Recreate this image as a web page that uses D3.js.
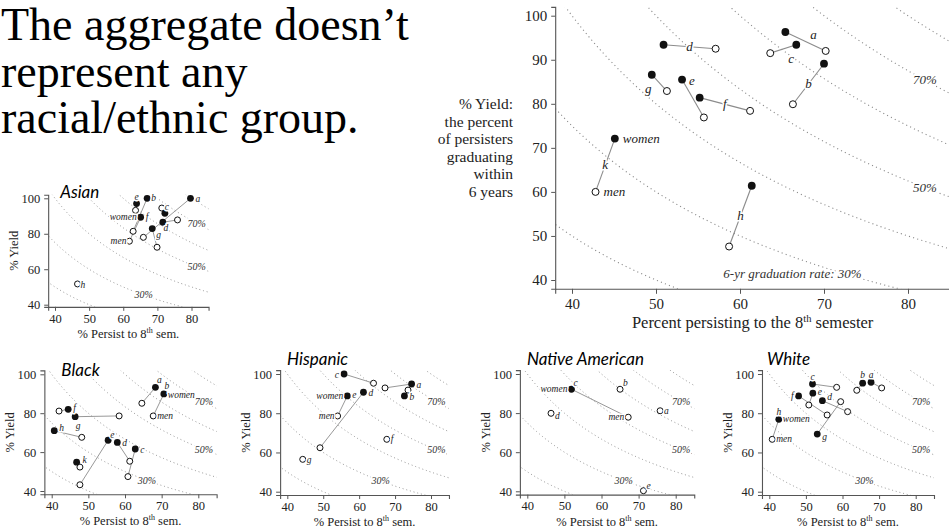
<!DOCTYPE html>
<html>
<head>
<meta charset="utf-8">
<script src="https://cdn.jsdelivr.net/npm/d3@7/dist/d3.min.js"></script>
<style>
  html, body { margin: 0; padding: 0; background: #fff; }
  svg { display: block; }
</style>
</head>
<body>
<svg id="chart" width="949" height="532"></svg>
<script>
// ---- data ---------------------------------------------------------------
// Six-year graduation rate contours (%), graduation = persist × yield
const gradLevels = [20, 30, 40, 50, 60, 70, 80];
const persistTicks = [40, 50, 60, 70, 80];
const yieldTicksMain = [40, 50, 60, 70, 80, 90, 100];
const yieldTicksSmall = [40, 60, 80, 100];

const headingLines = ["The aggregate doesn\u2019t", "represent any", "racial/ethnic group."];
const mainYTitle = ["% Yield:", "the percent", "of persisters", "graduating", "within", "6 years"];

// All students, by institution (women = filled, men = open)
const allInst         = ["a", "b", "c", "d", "e", "f", "g", "h", "k"];
const allWomenPersist = [65.4, 70.0, 66.7, 50.9, 53.1, 55.2, 49.5, 61.4, 45.1];
const allWomenYield   = [96.3, 89.1, 93.4, 93.4, 85.5, 81.4, 86.6, 61.4, 72.1];
const allMenPersist   = [70.2, 66.3, 63.6, 57.1, 55.7, 61.2, 51.3, 58.7, 42.8];
const allMenYield     = [92.0, 79.9, 91.5, 92.5, 76.9, 78.4, 82.9, 47.6, 60.0];

const asianInst         = ["a", "b", "c", "d", "e", "f", "g", "h"];
const asianWomenPersist = [79.7, 67.0, 72.2, 71.6, 63.9, 65.1, 68.5, null];
const asianWomenYield   = [100, 100, 91.5, 86.5, 97.0, 89.3, 82.9, null];
const asianMenPersist   = [65.9, 62.9, 71.3, 75.9, 63.6, 61.8, 69.9, 46.6];
const asianMenYield     = [78.0, 81.4, 94.5, 87.8, 93.2, 75.8, 72.4, 51.7];

const blackInst         = ["a", "b", "c", "d", "e", "f", "g", "h", "k"];
const blackWomenPersist = [68.3, 70.6, 62.8, 57.9, 55.4, 44.5, 46.4, 40.7, 46.8];
const blackWomenYield   = [93.3, 89.9, 61.6, 65.0, 66.1, 82.0, 78.2, 71.0, 54.8];
const blackMenPersist   = [64.6, 67.7, 60.8, 61.3, 47.7, 42.0, 58.4, 48.2, 47.7];
const blackMenYield     = [85.1, 78.6, 47.4, 55.3, 43.2, 81.1, 78.6, 67.6, 52.3];

const hispInst         = ["a", "b", "c", "d", "e", "f", "g"];
const hispWomenPersist = [74.6, 72.6, 55.8, 61.2, 56.7, null, null];
const hispWomenYield   = [94.9, 88.8, 100, 90.7, 88.8, null, null];
const hispMenPersist   = [67.2, 73.6, 64.0, 49.1, 54.0, 67.7, 44.3];
const hispMenYield     = [92.9, 91.8, 95.3, 62.4, 78.6, 66.7, 56.5];

const natInst         = ["a", "b", "c", "d", "e"];
const natWomenPersist = [null, null, 51.9, null, null];
const natWomenYield   = [null, null, 92.2, null, null];
const natMenPersist   = [75.8, 65.0, 67.2, 46.4, 71.3];
const natMenYield     = [81.2, 92.2, 77.9, 79.9, 40.3];

const whiteInst         = ["a", "b", "c", "d", "e", "f", "g", "h"];
const whiteWomenPersist = [67.8, 65.5, 51.8, 54.5, 51.9, 48.0, 53.1, 42.6];
const whiteWomenYield   = [95.8, 95.3, 94.9, 86.4, 90.2, 88.8, 69.4, 76.9];
const whiteMenPersist   = [70.7, 63.9, 58.4, 61.4, 50.8, 55.8, 59.5, 40.8];
const whiteMenYield     = [92.9, 91.7, 93.2, 80.8, 84.2, 79.1, 85.9, 66.7];

// ---- layout ---------------------------------------------------------------
const SERIF = "'Liberation Serif', 'Times New Roman', serif";
const SANS = "Lato, 'Open Sans', sans-serif";

const svg = d3.select("#chart");

// heading
svg.append("g").selectAll("text").data(headingLines).join("text")
  .attr("x", 1).attr("y", (d, i) => 40 + i * 46.5)
  .attr("font-family", SERIF).attr("font-size", 46).attr("fill", "#000")
  .text(d => d);

// label spec: [anchor point, dx, dy, text-anchor]
const panels = [
  {
    id: "all", main: true,
    inst: allInst, wp: allWomenPersist, wy: allWomenYield, mp: allMenPersist, my: allMenYield,
    px40: 572, px80: 908, py100: 15.7, py40: 280, yLo: 38, yHi: 102,
    yTicks: yieldTicksMain, r: 3.5,
    tickFont: 15, labelFont: 13, pctFont: 13,
    labels: { a: ["mid", 8, -7, "middle"], b: ["mid", 0, 0, "middle"], c: ["mid", 8, 10, "middle"],
              d: ["mid", 0, 0, "middle"], e: ["w", 7, 1, "start"], f: ["mid", 0, 0, "middle"],
              g: ["mid", -11, 6, "middle"], h: ["mid", 0, 0, "middle"], k: ["mid", 0, 0, "middle"] },
    gender: { inst: "k", w: ["w", 8, 0, "start"], m: ["m", 8, 0, "start"] },
    pctLabels: [ { level: 70, x: 82, text: "70%" }, { level: 50, x: 82, text: "50%" },
                 { level: 30, x: 66.25, text: "6-yr graduation rate: 30%", dy: 17 } ]
  },
  {
    id: "asian", title: "Asian", titleDx: 12, titleDy: -6,
    inst: asianInst, wp: asianWomenPersist, wy: asianWomenYield, mp: asianMenPersist, my: asianMenYield,
    px40: 55, px80: 191.5, py100: 198.3, py40: 304.7, yLo: 38.8, yHi: 102,
    labels: { a: ["w", 5, 1, "start"], b: ["w", 4, 0, "start"], c: ["m", 3, -1, "start"],
              d: ["w", 3, 6, "middle"], e: ["w", 0, -7, "middle"], f: ["w", 5, 0, "start"],
              g: ["w", 4, 6, "start"], h: ["m", 3, 1, "start"] },
    gender: { inst: "f", w: ["w", -4, 0, "end"], m: ["m", -3, 0, "end"] }
  },
  {
    id: "black", title: "Black", titleDx: 17, titleDy: -4,
    inst: blackInst, wp: blackWomenPersist, wy: blackWomenYield, mp: blackMenPersist, my: blackMenYield,
    px40: 51.7, px80: 198.3, py100: 374.3, py40: 491, yLo: 38.3, yHi: 102,
    labels: { a: ["w", 4, -7, "middle"], b: ["w", 3, -8, "middle"], c: ["w", 5, 1, "start"],
              d: ["w", 5, 1, "start"], e: ["w", 2, -5, "start"], f: ["w", 5, -1, "start"],
              g: ["w", 3, 9, "middle"], h: ["w", 5, -3, "start"], k: ["w", 6, -2, "start"] },
    gender: { inst: "b", w: ["w", 4, 1, "start"], m: ["m", 4, 0, "start"] }
  },
  {
    id: "hisp", title: "Hispanic", titleDx: 7, titleDy: -15,
    inst: hispInst, wp: hispWomenPersist, wy: hispWomenYield, mp: hispMenPersist, my: hispMenYield,
    px40: 287.3, px80: 431, py100: 374, py40: 491.7, yLo: 38.3, yHi: 102,
    labels: { a: ["w", 5, 1, "start"], b: ["w", 5, 1, "start"], c: ["w", -5, 1, "end"],
              d: ["w", 5, 1, "start"], e: ["w", 5, -1, "start"], f: ["m", 4, 0, "start"],
              g: ["m", 4, 1, "start"] },
    gender: { inst: "e", w: ["w", -4, 0, "end"], m: ["m", -3, 0, "end"] }
  },
  {
    id: "nat", title: "Native American", titleDx: 7, titleDy: -15,
    inst: natInst, wp: natWomenPersist, wy: natWomenYield, mp: natMenPersist, my: natMenYield,
    px40: 527.3, px80: 675.7, py100: 374, py40: 491.3, yLo: 38.3, yHi: 102,
    labels: { a: ["m", 4, 0, "start"], b: ["m", 3, -6, "start"], c: ["w", 2, -6, "start"],
              d: ["m", 4, 3, "start"], e: ["m", 3, -5, "start"] },
    gender: { inst: "c", w: ["w", -4, 0, "end"], m: ["m", -4, 0, "end"] }
  },
  {
    id: "white", title: "White", titleDx: 5, titleDy: -15,
    inst: whiteInst, wp: whiteWomenPersist, wy: whiteWomenYield, mp: whiteMenPersist, my: whiteMenYield,
    px40: 769.3, px80: 915.7, py100: 374, py40: 491.7, yLo: 38.3, yHi: 102,
    labels: { a: ["w", 0, -7, "middle"], b: ["w", 0, -8, "middle"], c: ["w", 0, -7, "middle"],
              d: ["w", 5, -4, "start"], e: ["w", 5, -1, "start"], f: ["w", -5, 0, "end"],
              g: ["w", 5, 3, "start"], h: ["w", 0, -7, "middle"] },
    gender: { inst: "h", w: ["w", 4, 0, "start"], m: ["m", 4, 0, "start"] }
  }
];

const smallDefaults = {
  yTicks: yieldTicksSmall, r: 3, tickFont: 12.5, labelFont: 9.5, pctFont: 10,
  pctLabels: [ { level: 70, x: 81.5, text: "70%" }, { level: 50, x: 81.5, text: "50%" },
               { level: 30, x: 66, text: "30%" } ]
};

// linear scale fixed by two reference values, re-expressed over the full domain
function refScale(d0, d1, r0, r1, lo, hi) {
  const s = d3.scaleLinear().domain([d0, d1]).range([r0, r1]);
  return d3.scaleLinear().domain([lo, hi]).range([s(lo), s(hi)]);
}

function halo(sel, w) {
  return sel.attr("stroke", "#fff").attr("stroke-width", w).attr("stroke-linejoin", "round")
    .attr("paint-order", "stroke");
}

panels.forEach(p0 => {
  const p = p0.main ? p0 : Object.assign({}, smallDefaults, p0);
  const x = refScale(40, 80, p.px40, p.px80, 38, 85);
  const y = refScale(100, 40, p.py100, p.py40, p.yLo, p.yHi);
  const [xl, xr] = x.range();
  const yb = y(p.yLo), yt = y(p.yHi);
  const g = svg.append("g");

  // clip for the plotting area
  g.append("clipPath").attr("id", "clip-" + p.id)
    .append("rect").attr("x", xl).attr("y", yt).attr("width", xr - xl).attr("height", yb - yt);

  // graduation-rate contours
  const xs = d3.range(36, 87.01, 0.25);
  const curve = d3.line().x(d => x(d[0])).y(d => y(d[1]));
  g.append("g").attr("clip-path", `url(#clip-${p.id})`)
    .selectAll("path").data(gradLevels).join("path")
    .attr("d", G => curve(xs.map(v => [v, G * 100 / v])))
    .attr("fill", "none").attr("stroke", "#8a8a8a")
    .attr("stroke-width", p.main ? 1.1 : 0.9)
    .attr("stroke-dasharray", p.main ? "1.1,3.2" : "1,2.8");

  // contour labels
  p.pctLabels.forEach(L => {
    const t = g.append("text")
      .attr("x", x(L.x)).attr("y", y(L.level * 100 / L.x) + (L.dy || 0))
      .attr("dy", "0.32em").attr("text-anchor", "middle")
      .attr("font-family", SERIF).attr("font-style", "italic")
      .attr("font-size", p.pctFont).attr("fill", "#333").text(L.text);
    halo(t, 4);
  });

  // axes
  const xAxis = d3.axisBottom(x).tickValues(persistTicks).tickSizeOuter(0)
    .tickSize(p.main ? 5 : 4).tickPadding(p.main ? 5 : 3);
  const yAxis = d3.axisLeft(y).tickValues(p.yTicks).tickSizeOuter(0)
    .tickSize(4).tickPadding(4);
  const gx = g.append("g").attr("transform", `translate(0,${yb})`).call(xAxis);
  const gy = g.append("g").attr("transform", `translate(${xl},0)`).call(yAxis);
  [gx, gy].forEach(a => {
    a.select(".domain").attr("stroke", "#555").attr("stroke-width", 1.1);
    a.selectAll(".tick line").attr("stroke", "#555");
    a.selectAll(".tick text").attr("font-family", SERIF).attr("font-size", p.tickFont).attr("fill", "#222");
  });

  // axis titles
  if (p.main) {
    const tx = g.append("text").attr("x", (xl + xr) / 2).attr("y", 328)
      .attr("text-anchor", "middle").attr("font-family", SERIF).attr("font-size", 16.5).attr("fill", "#222");
    tx.append("tspan").text("Percent persisting to the 8");
    tx.append("tspan").attr("dy", -6).attr("font-size", 10.5).text("th");
    tx.append("tspan").attr("dy", 6).text(" semester");
    g.append("g").selectAll("text").data(mainYTitle).join("text")
      .attr("x", 513).attr("y", (d, i) => 109 + i * 17.6)
      .attr("text-anchor", "end").attr("font-family", SERIF).attr("font-size", 15.5).attr("fill", "#222")
      .text(d => d);
  } else {
    const tx = g.append("text").attr("x", (xl + xr) / 2).attr("y", yb + 31)
      .attr("text-anchor", "middle").attr("font-family", SERIF).attr("font-size", 12.5).attr("fill", "#222");
    tx.append("tspan").text("% Persist to 8");
    tx.append("tspan").attr("dy", -5).attr("font-size", 8).text("th");
    tx.append("tspan").attr("dy", 5).text(" sem.");
    g.append("text")
      .attr("transform", `translate(${xl - 30},${(yb + yt) / 2}) rotate(-90)`)
      .attr("text-anchor", "middle").attr("font-family", SERIF).attr("font-size", 12.5).attr("fill", "#222")
      .text("% Yield");
    const title = g.append("text")
      .attr("x", xl + p.titleDx).attr("y", y(100) + p.titleDy).attr("dy", "0.35em")
      .attr("font-family", SANS).attr("font-style", "italic").attr("font-size", 17).attr("fill", "#000")
      .text(p.title);
    halo(title, 3);
  }

  // institutions: women (filled) and men (open)
  const rows = p.inst.map((k, i) => ({
    k,
    w: p.wp[i] == null ? null : [x(p.wp[i]), y(p.wy[i])],
    m: p.mp[i] == null ? null : [x(p.mp[i]), y(p.my[i])]
  }));

  g.append("g").selectAll("line").data(rows.filter(d => d.w && d.m)).join("line")
    .attr("x1", d => d.w[0]).attr("y1", d => d.w[1])
    .attr("x2", d => d.m[0]).attr("y2", d => d.m[1])
    .attr("stroke", "#8c8c8c").attr("stroke-width", p.main ? 1.1 : 0.9);

  g.append("g").selectAll("circle").data(rows.filter(d => d.m)).join("circle")
    .attr("cx", d => d.m[0]).attr("cy", d => d.m[1]).attr("r", p.r)
    .attr("fill", "#fff").attr("stroke", "#111").attr("stroke-width", 1);
  g.append("g").selectAll("circle").data(rows.filter(d => d.w)).join("circle")
    .attr("cx", d => d.w[0]).attr("cy", d => d.w[1]).attr("r", p.r + 0.4)
    .attr("fill", "#111");

  function anchorPt(d, spec) {
    if (spec[0] === "w") return d.w;
    if (spec[0] === "m") return d.m;
    return [(d.w[0] + d.m[0]) / 2, (d.w[1] + d.m[1]) / 2];
  }
  function putLabel(d, spec, text) {
    const pt = anchorPt(d, spec);
    const t = g.append("text")
      .attr("x", pt[0] + spec[1]).attr("y", pt[1] + spec[2]).attr("dy", "0.32em")
      .attr("text-anchor", spec[3])
      .attr("font-family", SERIF).attr("font-style", "italic")
      .attr("font-size", p.labelFont).attr("fill", "#222").text(text);
    halo(t, 3);
  }
  rows.forEach(d => { if (p.labels[d.k]) putLabel(d, p.labels[d.k], d.k); });
  const gr = rows.find(d => d.k === p.gender.inst);
  if (gr) {
    if (gr.w) putLabel(gr, p.gender.w, "women");
    if (gr.m) putLabel(gr, p.gender.m, "men");
  }
});
</script>
</body>
</html>
